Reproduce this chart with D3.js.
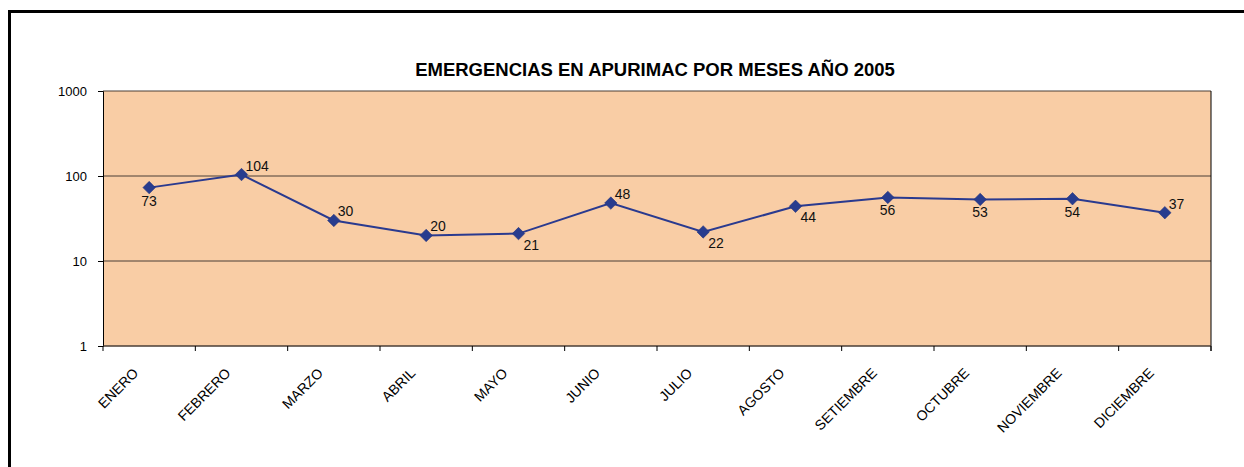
<!DOCTYPE html>
<html lang="es">
<head>
    <meta charset="UTF-8">
    <title>Emergencias en Apurimac 2005</title>
    <script src="https://d3js.org/d3.v7.min.js"></script>
    <style>
        body { margin: 0; padding: 0; background: #fff; }
        svg { display: block; font-family: Arial, "Liberation Sans", sans-serif; }
    </style>
</head>
<body>
    <svg id="chart" width="1244" height="467"></svg>
    <script>
        // data
        const months = ["ENERO", "FEBRERO", "MARZO", "ABRIL", "MAYO", "JUNIO", "JULIO",
            "AGOSTO", "SETIEMBRE", "OCTUBRE", "NOVIEMBRE", "DICIEMBRE"];
        const emergencias = [73, 104, 30, 20, 21, 48, 22, 44, 56, 53, 54, 37];
        const yTicks = [1, 10, 100, 1000];
        // where each value label sits relative to its marker
        const labelSide = ["below", "right", "right", "right", "belowRight", "right",
            "belowRight", "belowRight", "below", "below", "below", "right"];

        const svg = d3.select("#chart");
        const width = 1244, height = 467;
        const margin = { top: 91, right: 33, bottom: 121, left: 103 };
        const innerW = width - margin.left - margin.right;
        const innerH = height - margin.top - margin.bottom;

        // outer frame
        svg.append("rect")
            .attr("x", 9.5).attr("y", 11.5)
            .attr("width", 1245).attr("height", 470)
            .attr("fill", "#fff")
            .attr("stroke", "#000")
            .attr("stroke-width", 3);

        svg.append("text")
            .attr("x", 655).attr("y", 76)
            .attr("text-anchor", "middle")
            .attr("font-size", 18.5)
            .attr("font-weight", "bold")
            .text("EMERGENCIAS EN APURIMAC POR MESES AÑO 2005");

        const x = d3.scaleBand().domain(months).range([0, innerW]);
        const y = d3.scaleLog().domain([1, 1000]).range([innerH, 0]);

        const g = svg.append("g").attr("transform", `translate(${margin.left},${margin.top})`);

        g.append("rect")
            .attr("width", innerW).attr("height", innerH)
            .attr("fill", "#F9CDA5");

        // horizontal grid lines
        g.selectAll(".grid")
            .data(yTicks)
            .enter().append("line")
            .attr("x1", 0).attr("x2", innerW)
            .attr("y1", d => y(d)).attr("y2", d => y(d))
            .attr("stroke", "#4a3f36")
            .attr("stroke-width", 1);

        // right frame edge
        g.append("line")
            .attr("x1", innerW).attr("x2", innerW)
            .attr("y1", 0).attr("y2", innerH + 5)
            .attr("stroke", "#000");

        // y axis
        const yAxis = g.append("g")
            .call(d3.axisLeft(y).tickValues(yTicks).tickFormat(d3.format("d")).tickSize(5).tickPadding(11));
        yAxis.select(".domain").attr("stroke", "#000");
        yAxis.selectAll("line").attr("stroke", "#000");
        yAxis.selectAll("text").attr("font-size", 13).attr("fill", "#000")
            .style("font-family", "Arial, 'Liberation Sans', sans-serif");

        // x axis with ticks on band edges
        const xAxis = g.append("g").attr("transform", `translate(0,${innerH})`);
        xAxis.append("line")
            .attr("x1", 0).attr("x2", innerW)
            .attr("stroke", "#4a3f36");
        xAxis.selectAll(".tick")
            .data(d3.range(months.length + 1))
            .enter().append("line")
            .attr("x1", i => i * x.step()).attr("x2", i => i * x.step())
            .attr("y1", 0).attr("y2", 5)
            .attr("stroke", "#000");
        xAxis.selectAll(".lab")
            .data(months)
            .enter().append("text")
            .attr("transform", d => `translate(${x(d) + x.bandwidth() / 2 - 10},${28}) rotate(-45)`)
            .attr("text-anchor", "end")
            .attr("font-size", 14)
            .text(d => d);

        const cx = (d, i) => x(months[i]) + x.bandwidth() / 2;

        const line = d3.line()
            .x((d, i) => cx(d, i))
            .y(d => y(d));

        g.append("path")
            .datum(emergencias)
            .attr("d", line)
            .attr("fill", "none")
            .attr("stroke", "#2A3A8F")
            .attr("stroke-width", 2);

        g.selectAll(".pt")
            .data(emergencias)
            .enter().append("path")
            .attr("d", d3.symbol().type(d3.symbolSquare).size(78))
            .attr("transform", (d, i) => `translate(${cx(d, i)},${y(d)}) rotate(45)`)
            .attr("fill", "#283C8E")
            .attr("stroke", "#1f2f7a")
            .attr("stroke-width", 0.5);

        const offsets = {
            below: [-8, 18],
            right: [4, -4],
            belowRight: [5, 16]
        };

        g.selectAll(".val")
            .data(emergencias)
            .enter().append("text")
            .attr("x", (d, i) => cx(d, i) + offsets[labelSide[i]][0])
            .attr("y", (d, i) => y(d) + offsets[labelSide[i]][1])
            .attr("font-size", 14)
            .attr("fill", "#111")
            .text(d => d);
    </script>
</body>
</html>
